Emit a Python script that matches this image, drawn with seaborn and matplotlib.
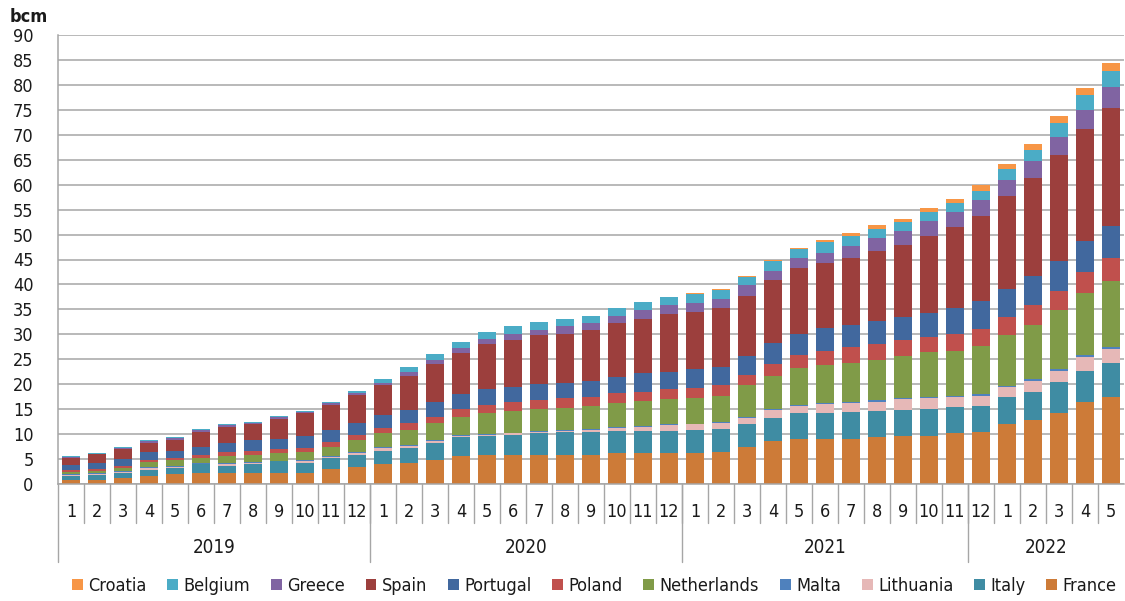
#Importing libraries
import pandas as pd
import matplotlib
matplotlib.use("Agg")
import matplotlib.pyplot as plt
import matplotlib.transforms as mtransforms
from matplotlib import font_manager
import seaborn as sns

#Month numbers under each bar (2019-01 to 2022-05)
months = [1, 2, 3, 4, 5, 6, 7, 8, 9, 10, 11, 12,
          1, 2, 3, 4, 5, 6, 7, 8, 9, 10, 11, 12,
          1, 2, 3, 4, 5, 6, 7, 8, 9, 10, 11, 12,
          1, 2, 3, 4, 5]
#Year labels and how many bars sit under each (as grouped in the source chart)
years = ["2019", "2020", "2021", "2022"]
year_counts = [12, 12, 11, 6]

#Series in legend order (first one ends up on top of the stack)
countries = ["Croatia", "Belgium", "Greece", "Spain", "Portugal", "Poland",
             "Netherlands", "Malta", "Lithuania", "Italy", "France"]

france = [0.9, 0.9, 1.2, 1.65, 1.95, 2.15, 2.15, 2.15, 2.15, 2.15, 3.0, 3.45,
          4.0, 4.3, 4.8, 5.6, 5.8, 5.8, 5.8, 5.8, 5.8, 6.15, 6.15, 6.15,
          6.15, 6.4, 7.5, 8.6, 9.1, 9.1, 9.1, 9.35, 9.7, 9.7, 10.15, 10.35,
          11.95, 12.75, 14.3, 16.5, 17.5]
italy = [0.75, 1.0, 1.05, 1.25, 1.25, 1.85, 1.45, 1.85, 2.4, 2.1, 2.25, 2.4,
         2.7, 2.85, 3.5, 3.75, 3.8, 4.0, 4.35, 4.55, 4.55, 4.55, 4.55, 4.55,
         4.65, 4.7, 4.45, 4.7, 5.05, 5.05, 5.25, 5.25, 5.2, 5.4, 5.3, 5.25,
         5.55, 5.75, 6.1, 6.2, 6.8]
lithuania = [0.25, 0.2, 0.25, 0.3, 0.25, 0.1, 0.4, 0.25, 0.05, 0.35, 0.2, 0.4,
             0.45, 0.55, 0.4, 0.35, 0.3, 0.35, 0.35, 0.35, 0.55, 0.5, 0.8, 1.05,
             1.15, 1.2, 1.35, 1.5, 1.45, 1.85, 1.8, 1.9, 2.1, 2.1, 2.05, 2.1,
             1.85, 2.15, 2.3, 2.8, 2.75]
malta = [0.15, 0.15, 0.15, 0.15, 0.15, 0.1, 0.2, 0.15, 0.05, 0.2, 0.15, 0.2,
         0.2, 0.1, 0.2, 0.1, 0.2, 0.15, 0.2, 0.15, 0.1, 0.15, 0.1, 0.25,
         0.15, 0.2, 0.2, 0.2, 0.2, 0.2, 0.2, 0.25, 0.2, 0.2, 0.2, 0.3,
         0.35, 0.35, 0.3, 0.4, 0.45]
netherlands = [0.4, 0.4, 0.55, 1.0, 1.2, 1.05, 1.4, 1.4, 1.5, 1.6, 1.85, 2.35,
               2.8, 3.0, 3.25, 3.7, 4.2, 4.25, 4.3, 4.45, 4.6, 4.8, 5.1, 4.95,
               5.1, 5.2, 6.35, 6.65, 7.5, 7.65, 7.95, 8.15, 8.5, 9.05, 9.0, 9.7,
               10.1, 10.85, 11.85, 12.3, 13.2]
poland = [0.35, 0.35, 0.5, 0.45, 0.45, 0.5, 0.75, 0.75, 0.8, 0.8, 1.0, 1.0,
          1.0, 1.35, 1.35, 1.5, 1.5, 1.85, 1.9, 1.95, 1.9, 2.05, 1.8, 2.05,
          2.1, 2.1, 2.05, 2.4, 2.55, 2.8, 3.2, 3.1, 3.15, 3.05, 3.4, 3.4,
          3.7, 4.0, 3.9, 4.2, 4.65]
portugal = [1.0, 1.3, 1.35, 1.65, 1.4, 1.7, 1.85, 2.2, 2.0, 2.35, 2.4, 2.35,
            2.6, 2.65, 2.9, 3.0, 3.2, 3.1, 3.1, 3.05, 3.1, 3.2, 3.7, 3.45,
            3.7, 3.7, 3.75, 4.15, 4.25, 4.55, 4.4, 4.65, 4.65, 4.75, 5.25, 5.6,
            5.5, 5.85, 6.0, 6.35, 6.35]
spain = [1.5, 1.7, 2.0, 1.8, 2.25, 3.0, 3.2, 3.25, 4.05, 4.6, 4.95, 5.65,
         6.05, 6.8, 7.65, 8.2, 9.05, 9.3, 9.85, 9.75, 10.25, 10.8, 10.8, 11.55,
         11.5, 11.85, 12.1, 12.7, 13.2, 13.15, 13.5, 14.05, 14.45, 15.5, 16.25, 17.1,
         18.7, 19.7, 21.15, 22.35, 23.6]
greece = [0.2, 0.1, 0.2, 0.3, 0.3, 0.35, 0.35, 0.25, 0.35, 0.25, 0.35, 0.45,
          0.5, 0.8, 0.8, 1.0, 1.0, 1.25, 1.0, 1.6, 1.35, 1.55, 1.8, 1.8,
          1.85, 1.8, 2.05, 1.85, 2.05, 2.05, 2.35, 2.65, 2.7, 2.95, 2.95, 3.1,
          3.2, 3.4, 3.6, 3.85, 4.2]
belgium = [0.15, 0.15, 0.25, 0.2, 0.25, 0.25, 0.2, 0.2, 0.2, 0.15, 0.2, 0.35,
           0.8, 1.1, 1.25, 1.3, 1.45, 1.6, 1.55, 1.35, 1.55, 1.6, 1.6, 1.6,
           1.75, 1.65, 1.6, 1.85, 1.8, 2.15, 2.05, 1.8, 1.8, 1.85, 1.85, 1.9,
           2.15, 2.1, 2.9, 3.0, 3.2]
croatia = [0, 0, 0, 0, 0, 0, 0, 0, 0, 0, 0, 0,
           0, 0, 0, 0, 0, 0, 0, 0, 0, 0, 0, 0,
           0.2, 0.2, 0.2, 0.3, 0.25, 0.45, 0.55, 0.7, 0.7, 0.85, 0.8, 1.05,
           1.0, 1.2, 1.35, 1.45, 1.7]

colours = ["#F79646", "#4BACC6", "#8064A2", "#9C3F3D", "#41689E", "#C0504D",
           "#809B48", "#4F81BD", "#E6B8B7", "#3F8CA3", "#CD7B38"]

series = {"Croatia": croatia, "Belgium": belgium, "Greece": greece, "Spain": spain,
          "Portugal": portugal, "Poland": poland, "Netherlands": netherlands,
          "Malta": malta, "Lithuania": lithuania, "Italy": italy, "France": france}

#Long table for seaborn
rows = []
for name in countries:
    for i, v in enumerate(series[name]):
        rows.append((i, name, v))
DataFrame = pd.DataFrame(rows, columns=["bar", "country", "bcm"])

#Style and fonts
sns.set_style("white")
names = {f.name for f in font_manager.fontManager.ttflist}
if "Liberation Sans Narrow" in names:
    plt.rcParams["font.family"] = ["Liberation Sans Narrow", "DejaVu Sans"]
else:
    plt.rcParams["font.family"] = ["DejaVu Sans"]
    plt.rcParams["font.stretch"] = "condensed"
text_col = "#1a1a1a"
grid_col = "#a6a6a6"

fig = plt.figure(figsize=(11.25, 6.01), dpi=100)
ax = fig.add_axes([58 / 1125, 1 - 484 / 601, 1066 / 1125, 449 / 601])

#Stacked bars
sns.histplot(data=DataFrame, x="bar", weights="bcm", hue="country", hue_order=countries,
             multiple="stack", discrete=True, shrink=0.67, palette=colours,
             alpha=1, linewidth=0, ax=ax)

ax.set_xlim(-0.5, 40.5)
ax.set_ylim(0, 90)
ax.set_yticks(range(0, 91, 5))
ax.yaxis.grid(True, color=grid_col, linewidth=1.1)
ax.xaxis.grid(False)
ax.set_axisbelow(True)
for s in ["top", "right"]:
    ax.spines[s].set_visible(False)
for s in ["left", "bottom"]:
    ax.spines[s].set_color(grid_col)
    ax.spines[s].set_linewidth(1.1)
ax.set_xlabel("")
ax.set_ylabel("")
ax.tick_params(axis="y", length=4.5, width=1.1, color=grid_col, pad=13,
               labelsize=13, labelcolor=text_col)
ax.set_xticks(range(len(months)))
ax.set_xticklabels(months)
ax.tick_params(axis="x", length=0, pad=14, labelsize=13, labelcolor=text_col)

#Month and year separators below the axis
trans = mtransforms.blended_transform_factory(ax.transData, ax.transAxes)
for i in range(1, len(months)):
    ax.plot([i - 0.5, i - 0.5], [0, -0.087], transform=trans, color=grid_col,
            linewidth=1.0, clip_on=False)
start = 0
for year, n in zip(years, year_counts):
    ax.plot([start - 0.5, start - 0.5], [0, -0.174], transform=trans, color=grid_col,
            linewidth=1.0, clip_on=False)
    ax.text(start + (n - 1) / 2, -0.1425, year, transform=trans, ha="center",
            va="center", fontsize=13.5, color=text_col)
    start += n

#Unit label
fig.text(10 / 1125, 1 - 17 / 601, "bcm", fontsize=13, fontweight="bold",
         color=text_col, va="center", ha="left")

#Legend across the bottom
sns.move_legend(ax, "center", bbox_to_anchor=(0.503, -0.227), ncol=11, frameon=False,
                title=None, fontsize=13, handlelength=0.6, handleheight=0.6,
                handletextpad=0.3, columnspacing=1.15, labelcolor=text_col)

plt.savefig("out.png", dpi=100)
